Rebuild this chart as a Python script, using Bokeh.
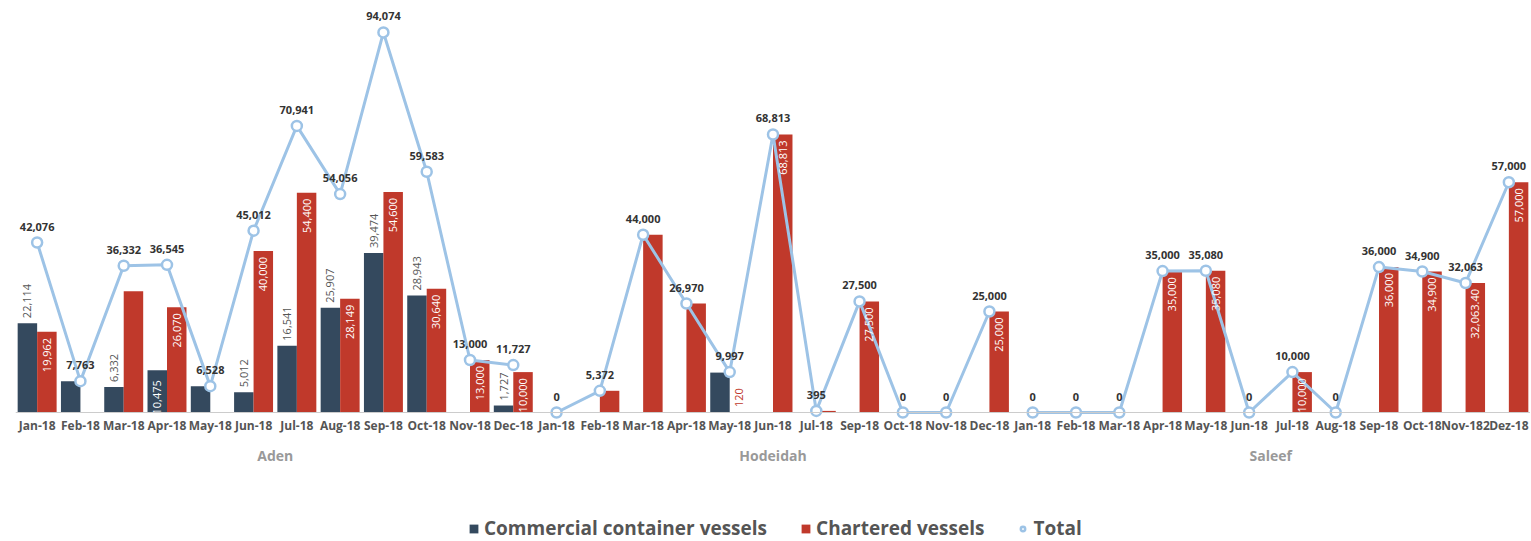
import math
from bokeh.plotting import figure
from bokeh.models import FactorRange, ColumnDataSource, Legend, LegendItem, Label, Range1d
from bokeh.transform import dodge
from bokeh.core.properties import value
from bokeh.embed import file_html
from bokeh.resources import INLINE

# ---------------- data ----------------
ports = ["Aden", "Hodeidah", "Saleef"]

aden_months = ["Jan-18", "Feb-18", "Mar-18", "Apr-18", "May-18", "Jun-18",
               "Jul-18", "Aug-18", "Sep-18", "Oct-18", "Nov-18", "Dec-18"]
hodeidah_months = ["Jan-18", "Feb-18", "Mar-18", "Apr-18", "May-18", "Jun-18",
                   "Jul-18", "Sep-18", "Oct-18", "Nov-18", "Dec-18"]
saleef_months = ["Jan-18", "Feb-18", "Mar-18", "Apr-18", "May-18", "Jun-18",
                 "Jul-18", "Aug-18", "Sep-18", "Oct-18", "Nov-182", "Dez-18"]

aden_commercial = [22114, 7763, 6332, 10475, 6528, 5012, 16541, 25907, 39474, 28943, 0, 1727]
aden_chartered = [19962, 0, 30000, 26070, 0, 40000, 54400, 28149, 54600, 30640, 13000, 10000]
aden_total = [42076, 7763, 36332, 36545, 6528, 45012, 70941, 54056, 94074, 59583, 13000, 11727]

hodeidah_commercial = [0, 0, 0, 0, 9877, 0, 0, 0, 0, 0, 0]
hodeidah_chartered = [0, 5372, 44000, 26970, 120, 68813, 395, 27500, 0, 0, 25000]
hodeidah_total = [0, 5372, 44000, 26970, 9997, 68813, 395, 27500, 0, 0, 25000]

saleef_commercial = [0, 0, 0, 0, 0, 0, 0, 0, 0, 0, 0, 0]
saleef_chartered = [0, 0, 0, 35000, 35080, 0, 10000, 0, 36000, 34900, 32063.40, 57000]
saleef_total = [0, 0, 0, 35000, 35080, 0, 10000, 0, 36000, 34900, 32063, 57000]

series_names = ["Commercial container vessels", "Chartered vessels", "Total"]

# labels hidden / placed differently in the original
commercial_hidden = {("Aden", "Feb-18"), ("Aden", "May-18"), ("Hodeidah", "May-18")}
commercial_inside = {("Aden", "Apr-18")}
chartered_hidden = {("Aden", "Mar-18"), ("Hodeidah", "Feb-18"), ("Hodeidah", "Mar-18"),
                    ("Hodeidah", "Apr-18"), ("Hodeidah", "Jul-18")}
chartered_outside = {("Hodeidah", "May-18")}

# ---------------- styling ----------------
C_COM = "#34495e"
C_CHA = "#c0392b"
C_TOT = "#9dc3e6"
FONT = "Open Sans"

Y_MAX = 100000
PLOT_PX = 404                 # pixels from Y_MAX down to the baseline
BELOW_PX = 129                # room under the baseline for labels and legend
PX = Y_MAX / PLOT_PX          # data units per pixel


def fmt(v):
    if float(v).is_integer():
        return f"{v:,.0f}"
    return f"{v:,.2f}"


groups = [
    ("Aden", aden_months, aden_commercial, aden_chartered, aden_total),
    ("Hodeidah", hodeidah_months, hodeidah_commercial, hodeidah_chartered, hodeidah_total),
    ("Saleef", saleef_months, saleef_commercial, saleef_chartered, saleef_total),
]

factors, com, cha, tot = [], [], [], []
for port, months, c, h, t in groups:
    for i, m in enumerate(months):
        factors.append((port, m))
        com.append(c[i])
        cha.append(h[i])
        tot.append(t[i])

source = ColumnDataSource(dict(x=factors, com=com, cha=cha, tot=tot,
                               tot_label=[fmt(round(v)) for v in tot]))

p = figure(
    x_range=FactorRange(*factors, factor_padding=0, group_padding=0,
                        subgroup_padding=0, range_padding=0),
    y_range=Range1d(-BELOW_PX * PX, Y_MAX),
    frame_width=1515, frame_height=PLOT_PX + BELOW_PX,
    output_backend="svg", toolbar_location=None,
    min_border_left=15, min_border_right=0, min_border_top=8, min_border_bottom=0,
)
p.outline_line_color = None
p.xgrid.grid_line_color = None
p.ygrid.grid_line_color = None
p.yaxis.visible = False
p.background_fill_color = "white"

xa = p.xaxis[0]
xa.fixed_location = 0
xa.axis_line_color = "#cccccc"
xa.major_tick_line_color = None
xa.minor_tick_line_color = None
xa.separator_line_color = None
xa.major_label_text_font = FONT
xa.major_label_text_font_size = "12px"
xa.major_label_text_font_style = "bold"
xa.major_label_text_color = "#555555"
xa.major_label_standoff = -2
xa.group_text_alpha = 0  # port names drawn as labels below for exact spacing

BW = 0.45
r_com = p.vbar(x=dodge("x", -0.225, range=p.x_range), top="com", width=BW,
               source=source, fill_color=C_COM, line_color=None)
r_cha = p.vbar(x=dodge("x", 0.225, range=p.x_range), top="cha", width=BW,
               source=source, fill_color=C_CHA, line_color=None)

# total lines, one per port
r_tot = None
for port, months, c, h, t in groups:
    src = ColumnDataSource(dict(x=[(port, m) for m in months], tot=list(t)))
    p.line(x="x", y="tot", source=src, line_color=C_TOT, line_width=3)
    r_tot = p.scatter(x="x", y="tot", source=src, size=10, marker="circle",
                      fill_color="white", line_color=C_TOT, line_width=2.5)

# port (group) names, centred under each group of months
start = 0
for port, months, c, h, t in groups:
    centre = start + len(months) / 2
    start += len(months)
    p.add_layout(Label(x=centre, y=-43 * PX, text=port, x_units="data", y_units="data",
                       text_align="center", text_baseline="middle",
                       text_font=FONT, text_font_size="14px", text_font_style="bold",
                       text_color="#999999"))

# ---------- data labels ----------
ca = dict(x=[], y=[], t=[])
ci = dict(x=[], y=[], t=[])
for f, v in zip(factors, com):
    if v == 0 or f in commercial_hidden:
        continue
    if f in commercial_inside:
        ci["x"].append(f); ci["y"].append(0); ci["t"].append(fmt(v))
    else:
        ca["x"].append(f); ca["y"].append(v); ca["t"].append(fmt(v))
p.text(x=dodge("x", -0.225, range=p.x_range), y="y", text="t", source=ColumnDataSource(ca),
       angle=math.pi / 2, text_align="left", text_baseline="middle", y_offset=-5,
       text_font=value(FONT), text_font_size="11px", text_color="#555555")
p.text(x=dodge("x", -0.225, range=p.x_range), y="y", text="t", source=ColumnDataSource(ci),
       angle=math.pi / 2, text_align="left", text_baseline="middle", y_offset=2,
       text_font=value(FONT), text_font_size="11px", text_color="white")

ha = dict(x=[], y=[], t=[])
hi = dict(x=[], y=[], t=[])
for f, v in zip(factors, cha):
    if v == 0 or f in chartered_hidden:
        continue
    if f in chartered_outside:
        ha["x"].append(f); ha["y"].append(v); ha["t"].append(fmt(v))
    else:
        hi["x"].append(f); hi["y"].append(v); hi["t"].append(fmt(v))
p.text(x=dodge("x", 0.225, range=p.x_range), y="y", text="t", source=ColumnDataSource(hi),
       angle=math.pi / 2, text_align="right", text_baseline="middle", y_offset=6,
       text_font=value(FONT), text_font_size="11px", text_color="white")
p.text(x=dodge("x", 0.225, range=p.x_range), y="y", text="t", source=ColumnDataSource(ha),
       angle=math.pi / 2, text_align="left", text_baseline="middle", y_offset=-5,
       text_font=value(FONT), text_font_size="11px", text_color=C_CHA)

# totals
p.text(x="x", y="tot", text="tot_label", source=source,
       text_align="center", text_baseline="bottom", y_offset=-12,
       text_font=value(FONT), text_font_size="11px", text_font_style="bold",
       text_color="#333333")

legend = Legend(items=[
    LegendItem(label=series_names[0], renderers=[r_com]),
    LegendItem(label=series_names[1], renderers=[r_cha]),
    LegendItem(label=series_names[2], renderers=[r_tot]),
], orientation="horizontal", location=(453, 0))
legend.label_text_font = FONT
legend.label_text_font_size = "19px"
legend.label_text_font_style = "bold"
legend.label_text_color = "#555555"
legend.glyph_width = 11
legend.glyph_height = 11
legend.label_standoff = 5
legend.spacing = 33
legend.border_line_color = None
legend.background_fill_alpha = 0
legend.margin = 0
legend.padding = 0
p.add_layout(legend, "center")

open("out.html", "w").write(file_html(p, INLINE))
